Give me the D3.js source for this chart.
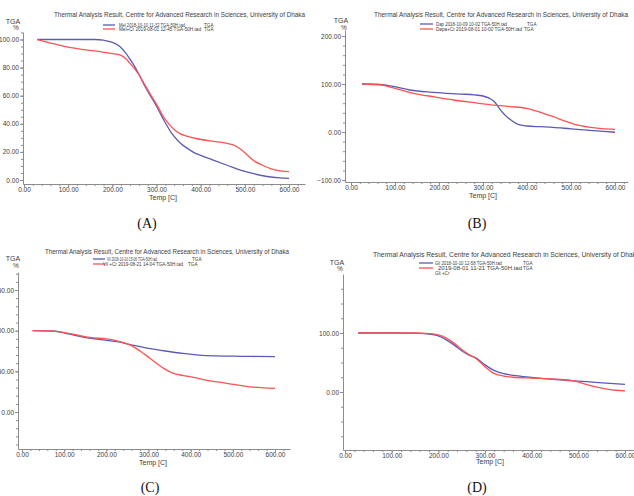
<!DOCTYPE html>
<html>
  <head>
    <meta charset="utf-8">
    <title>TGA curves, drug and drug + Cr</title>
    <script src="https://d3js.org/d3.v7.min.js"></script>
    <style>
      body { margin: 0; background: #fff; }
      svg { display: block; font-family: "Liberation Sans", Arial, sans-serif; }
      .axis .domain, .axis line { stroke: #8c8c8c; stroke-width: 1; }
      .axis text { fill: #3c3c3c; font-size: 6.5px; }
      .plot { fill: none; stroke-width: 1.3; }
      .base { stroke: #5b5bb4; }
      .cr { stroke: #ff5252; }
      .label { fill: #3c3c3c; }
      .panelName { font-family: "Liberation Serif", "Times New Roman", serif; font-size: 14px; fill: #111; }
    </style>
  </head>
  <body>
    <svg id="chart" width="634" height="496"></svg>
    <script>
      // ---- data (temp in C, mass in %) ----
      var tempMel = [30, 100, 160, 180, 200, 217, 230, 240, 252, 263, 275, 292, 301, 316, 335, 355, 370, 385, 400, 430, 460, 490, 520, 550, 580, 600];
      var tgaMel = [100, 100, 100, 99.5, 98, 95, 90.5, 86, 80, 73.5, 66, 57, 52, 43, 33, 26, 22.5, 19.5, 17.5, 14, 10.5, 7, 4.5, 2.5, 1.5, 1.2];
      var tempMelCr = [30, 60, 97, 130, 172, 200, 217, 230, 240, 252, 263, 275, 290, 300, 312, 325, 340, 353, 370, 398, 430, 460, 474, 490, 505, 519, 540, 560, 580, 600];
      var tgaMelCr = [100, 97.5, 94.7, 93, 91.3, 90, 89, 86.5, 83, 78.5, 73.5, 67, 59, 54, 47, 41, 36, 33, 31, 29, 27.5, 26, 25, 22, 18, 14, 10.5, 8, 6.5, 6];

      var tempDap = [25, 60, 90, 134, 180, 217, 250, 280, 300, 315, 326, 335, 345, 354, 365, 375, 384, 400, 430, 459, 500, 550, 600];
      var tgaDap = [100, 99.5, 96, 87.5, 83, 80.6, 79, 77.5, 75, 70, 63, 52, 40, 32, 24, 18, 14.6, 12.5, 11, 9.7, 6.5, 3, -0.5];
      var tempDapCr = [25, 66, 100, 142, 190, 233, 280, 324, 360, 399, 420, 440, 460, 485, 513, 540, 570, 600];
      var tgaDapCr = [100, 98, 91, 80.6, 73, 66.7, 61, 56, 53, 49.3, 44, 38, 31.9, 23, 14.6, 10, 7, 5.6];

      var tempVil = [25, 73, 110, 145, 185, 225, 265, 304, 340, 382, 420, 462, 520, 600];
      var tgaVil = [100, 99.6, 96, 92, 89, 86.5, 82, 78, 75, 72, 70, 69, 68.5, 68];
      var tempVilCr = [25, 73, 130, 164, 201, 232, 264, 280, 296, 311, 335, 359, 380, 406, 440, 485, 540, 600];
      var tgaVilCr = [100, 99.5, 94.7, 91.4, 89.8, 86.5, 80.3, 75, 69, 63, 54, 47.6, 45, 42.7, 39, 35.3, 31, 29];

      var tempGli = [28, 100, 150, 175, 200, 218, 235, 250, 265, 282, 300, 318, 340, 375, 410, 446, 480, 518, 560, 600];
      var tgaGli = [100, 100, 99.8, 98.5, 95, 88, 79, 70, 63, 57, 46, 37, 31, 27, 24, 21.5, 19.5, 17.5, 15, 13];
      var tempGliCr = [28, 100, 150, 175, 200, 218, 235, 250, 265, 282, 300, 318, 340, 361, 400, 446, 480, 497, 520, 553, 580, 600];
      var tgaGliCr = [100, 100, 100, 99.5, 97, 91, 82, 72, 64, 56, 43, 32, 27, 25, 23.5, 22, 20, 17.5, 12, 6.3, 3, 2];

      // ---- texts and ticks ----
      var titleText = "Thermal Analysis Result,  Centre for Advanced Research in Sciences, University of Dhaka";
      var xTicks = [0, 100, 200, 300, 400, 500, 600];
      var yTicksA = [0, 20, 40, 60, 80, 100];
      var yTicksB = [-100, 0, 100, 200];
      var yTicksC = [0, 50, 100, 150];
      var yTicksD = [0, 100];
      var legendA = ["Mel 2018-10-10 11-32 TGA-50H.tad", "Mel+Cr 2019-08-01 12-45 TGA-50H.tad"];
      var legendB = ["Dap 2018-10-09 10-02 TGA-50H.tad", "Dapa+Cr 2019-08-01 10-00 TGA-50H.tad"];
      var legendC = ["Vil 2018-10-10 15-06 TGA-50H.tad", "Vil    +Cr 2019-08-21 14-04 TGA-50H.tad"];
      var legendD = ["Gli 2018-10-10 12-58 TGA-50H.tad", "2019-08-01 11-21 TGA-50H.tad"];

      function zip(t, v) { return t.map(function(d, i) { return { t: d, v: v[i] }; }); }

      // panel layout: x/y give two reference points (value -> pixel), axis extents in pixels
      var panels = [
        { name: "(A)", nameXY: [147, 228],
          x: { d: [0, 600], r: [24, 289], ext: [23, 305] }, y: { d: [0, 100], r: [180, 39.5], ext: [184, 32] },
          yTicks: yTicksA, yMinor: 5, xLab: [163, 200], xTickY: 0.5,
          title: [54, 16.5, 251], tga: [13, 23.5],
          legend: legendA, leg: { lx: [103, 115], ly: [25, 29], tx: [119, 119], tw: [66, 82], gx: [204, 204] },
          base: zip(tempMel, tgaMel), cr: zip(tempMelCr, tgaMelCr) },
        { name: "(B)", nameXY: [477, 228],
          x: { d: [0, 600], r: [351, 615], ext: [345, 628] }, y: { d: [-100, 200], r: [180, 36], ext: [182, 30] },
          yTicks: yTicksB, yMinor: 20, xLab: [483, 198], xTickY: 0,
          title: [374, 17, 254], tga: [341, 23],
          legend: legendB, leg: { lx: [420, 433], ly: [24, 29], tx: [436, 436], tw: [71, 86], gx: [527, 524] },
          base: zip(tempDap, tgaDap), cr: zip(tempDapCr, tgaDapCr) },
        { name: "(C)", nameXY: [150, 492],
          x: { d: [0, 600], r: [22, 275], ext: [18, 290] }, y: { d: [0, 150], r: [412, 290], ext: [449, 272] },
          yTicks: yTicksC, yMinor: 10, xLab: [153, 465], xTickY: 0,
          title: [45, 254, 244], tga: [13, 261],
          legend: legendC, leg: { lx: [93, 105], ly: [259, 264], tx: [107, 103], tw: [50, 80], gx: [192, 188] },
          base: zip(tempVil, tgaVil), cr: zip(tempVilCr, tgaVilCr) },
        { name: "(D)", nameXY: [477, 492],
          x: { d: [0, 600], r: [345, 625], ext: [343, 640] }, y: { d: [0, 100], r: [392, 333], ext: [450, 274] },
          yTicks: yTicksD, yMinor: 25, xLab: [490, 464], xTickY: 0,
          title: [373, 257, 267], tga: [337, 264.5],
          legend: legendD, leg: { lx: [419, 433], ly: [263, 268], tx: [435, 438], tw: [67, 84], gx: [523, 523], extra: "Gli +Cr" },
          base: zip(tempGli, tgaGli), cr: zip(tempGliCr, tgaGliCr) }
      ];

      var svg = d3.select("#chart");

      panels.forEach(function(p) {
        var g = svg.append("g");
        // scales stretched so that the axis line covers the drawn extent
        var x0 = d3.scaleLinear().domain(p.x.d).range(p.x.r);
        var x = d3.scaleLinear().domain([x0.invert(p.x.ext[0]), x0.invert(p.x.ext[1])]).range(p.x.ext);
        var y0 = d3.scaleLinear().domain(p.y.d).range(p.y.r);
        var y = d3.scaleLinear().domain([y0.invert(p.y.ext[0]), y0.invert(p.y.ext[1])]).range(p.y.ext);
        var xMin = Math.ceil(x.domain()[0] / 20) * 20, xMax = x.domain()[1];
        var yLo = Math.ceil(y.domain()[0] / p.yMinor) * p.yMinor, yHi = y.domain()[1];

        // minor ticks
        g.append("g").attr("class", "axis")
          .attr("transform", "translate(0," + p.y.ext[0] + ")")
          .call(d3.axisBottom(x).tickValues(d3.range(xMin, xMax, 20)).tickSize(2).tickFormat(""))
          .select(".domain").remove();
        g.append("g").attr("class", "axis")
          .attr("transform", "translate(" + p.x.ext[0] + ",0)")
          .call(d3.axisLeft(y).tickValues(d3.range(yLo, yHi, p.yMinor)).tickSize(2).tickFormat(""))
          .select(".domain").remove();

        // main axes
        g.append("g").attr("class", "axis")
          .attr("transform", "translate(0," + p.y.ext[0] + ")")
          .call(d3.axisBottom(x).tickValues(xTicks).tickSizeInner(3).tickSizeOuter(0).tickPadding(p.xTickY).tickFormat(d3.format(".2f")));
        g.append("g").attr("class", "axis")
          .attr("transform", "translate(" + p.x.ext[0] + ",0)")
          .call(d3.axisLeft(y).tickValues(p.yTicks).tickSizeInner(3).tickSizeOuter(0).tickPadding(1).tickFormat(d3.format(".2f")));

        // curves
        var line = d3.line()
          .x(function(d) { return x(d.t); })
          .y(function(d) { return y(d.v); })
          .curve(d3.curveMonotoneX);
        g.append("path").attr("class", "plot base").attr("d", line(p.base));
        g.append("path").attr("class", "plot cr").attr("d", line(p.cr));

        // labels
        g.append("text").attr("class", "label")
          .attr("x", p.title[0]).attr("y", p.title[1])
          .attr("textLength", p.title[2]).attr("lengthAdjust", "spacingAndGlyphs")
          .style("font-size", "6.3px").text(titleText);
        g.append("text").attr("class", "label").attr("text-anchor", "middle")
          .attr("x", p.tga[0]).attr("y", p.tga[1]).style("font-size", "7px").text("TGA");
        g.append("text").attr("class", "label").attr("text-anchor", "middle")
          .attr("x", p.tga[0] + 3).attr("y", p.tga[1] + 6.5).style("font-size", "6.5px").text("%");
        g.append("text").attr("class", "label").attr("text-anchor", "middle")
          .attr("x", p.xLab[0]).attr("y", p.xLab[1]).style("font-size", "7px").text("Temp  [C]");
        g.append("text").attr("class", "panelName").attr("text-anchor", "middle")
          .attr("x", p.nameXY[0]).attr("y", p.nameXY[1]).text(p.name);

        // legend
        var L = p.leg;
        ["base", "cr"].forEach(function(k, i) {
          g.append("line").attr("class", "plot " + k)
            .attr("x1", L.lx[0]).attr("x2", L.lx[1]).attr("y1", L.ly[i]).attr("y2", L.ly[i]);
          g.append("text").attr("class", "label")
            .attr("x", L.tx[i]).attr("y", L.ly[i] + 1.6)
            .attr("textLength", L.tw[i]).attr("lengthAdjust", "spacingAndGlyphs")
            .style("font-size", "4.6px").text(p.legend[i]);
          g.append("text").attr("class", "label")
            .attr("x", L.gx[i]).attr("y", L.ly[i] + 1.6)
            .style("font-size", "4.6px").text("TGA");
        });
        if (L.extra) {
          g.append("text").attr("class", "label")
            .attr("x", L.tx[0]).attr("y", L.ly[1] + 6.6)
            .style("font-size", "4.6px").text(L.extra);
        }
      });
    </script>
  </body>
</html>
